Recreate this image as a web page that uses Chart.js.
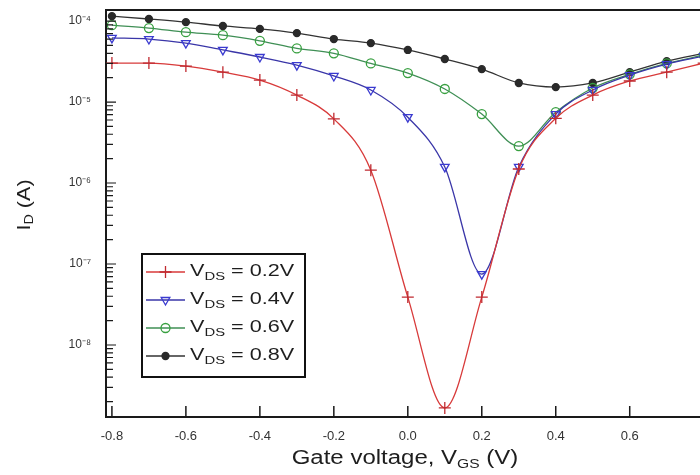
<!DOCTYPE html>
<html>
<head>
<meta charset="utf-8">
<script src="https://cdn.jsdelivr.net/npm/chart.js@4"></script>
<style>
  body { margin: 0; background: #fff; }
  #wrap { width: 700px; height: 475px; }
</style>
</head>
<body>
<div id="wrap"><canvas id="idChart" width="700" height="475"></canvas></div>
<script>
// Gate voltage sweep (V)
const vgs = [-0.8, -0.7, -0.6, -0.5, -0.4, -0.3, -0.2, -0.1, 0.0, 0.1, 0.2, 0.3, 0.4, 0.5, 0.6, 0.7, 0.8];

// drain current (A) for each V_DS
const id02 = [3.03e-5, 3.03e-5, 2.78e-5, 2.34e-5, 1.87e-5, 1.22e-5, 6.2e-6, 1.44e-6, 3.9e-8, 1.67e-9, 3.9e-8, 1.49e-6, 6.3e-6, 1.22e-5, 1.82e-5, 2.34e-5, 3.03e-5];
const id04 = [6.2e-5, 6.0e-5, 5.35e-5, 4.4e-5, 3.6e-5, 2.86e-5, 2.1e-5, 1.41e-5, 6.5e-6, 1.58e-6, 7.5e-8, 1.58e-6, 7.1e-6, 1.41e-5, 2.15e-5, 2.94e-5, 3.7e-5];
const id06 = [8.9e-5, 8.2e-5, 7.3e-5, 6.7e-5, 5.7e-5, 4.6e-5, 4.0e-5, 3.0e-5, 2.28e-5, 1.45e-5, 7.1e-6, 2.86e-6, 7.5e-6, 1.49e-5, 2.2e-5, 3.0e-5, 3.8e-5];
const id08 = [1.15e-4, 1.06e-4, 9.7e-5, 8.7e-5, 8.0e-5, 7.1e-5, 6.0e-5, 5.35e-5, 4.4e-5, 3.4e-5, 2.55e-5, 1.72e-5, 1.53e-5, 1.72e-5, 2.34e-5, 3.2e-5, 4.0e-5];

const seriesLabels = ["0.2V", "0.4V", "0.6V", "0.8V"];
const xTicks = [-0.8, -0.6, -0.4, -0.2, 0.0, 0.2, 0.4, 0.6];
const yDecades = [-9, -8, -7, -6, -5, -4];

const FONT = "'Liberation Sans', Arial, sans-serif";
const SUP = { "-": "\u207B", "4": "\u2074", "5": "\u2075", "6": "\u2076", "7": "\u2077", "8": "\u2078", "9": "\u2079" };

function toPoints(arr) {
    return vgs.map((v, i) => ({ x: v, y: arr[i] }));
}

const styles = [
    { line: "#d83a3a", mark: "#c02a30", style: "cross", radius: 6, rot: 0, fill: "#c02a30" },
    { line: "#3a36a8", mark: "#3a3ad0", style: "triangle", radius: 5, rot: 180, fill: "rgba(255,255,255,0)" },
    { line: "#3f8f55", mark: "#38a040", style: "circle", radius: 4.5, rot: 0, fill: "rgba(255,255,255,0)" },
    { line: "#333333", mark: "#2a2a2a", style: "circle", radius: 3.5, rot: 0, fill: "#2a2a2a" }
];
const allData = [id02, id04, id06, id08];

// draws text pieces with subscripts, starting at x (or centred), stretched by sx
function drawParts(ctx, parts, x, y, sx, centred) {
    let total = 0;
    parts.forEach(p => {
        ctx.font = p.size + "px " + FONT;
        p.w = ctx.measureText(p.t).width;
        total += p.w;
    });
    ctx.save();
    ctx.translate(x, y);
    ctx.scale(sx, 1);
    let cx = centred ? -total / 2 : 0;
    ctx.textBaseline = "middle";
    ctx.textAlign = "left";
    parts.forEach(p => {
        ctx.font = p.size + "px " + FONT;
        ctx.fillText(p.t, cx, p.dy || 0);
        cx += p.w;
    });
    ctx.restore();
}

function drawMarker(ctx, s, x, y) {
    ctx.save();
    ctx.strokeStyle = s.mark;
    ctx.fillStyle = s.fill;
    ctx.lineWidth = 1.3;
    ctx.beginPath();
    if (s.style === "cross") {
        ctx.moveTo(x - s.radius, y); ctx.lineTo(x + s.radius, y);
        ctx.moveTo(x, y - s.radius); ctx.lineTo(x, y + s.radius);
        ctx.stroke();
    } else if (s.style === "triangle") {
        const r = s.radius;
        ctx.moveTo(x, y + r);
        ctx.lineTo(x - r * 0.87, y - r * 0.5);
        ctx.lineTo(x + r * 0.87, y - r * 0.5);
        ctx.closePath();
        ctx.fill(); ctx.stroke();
    } else {
        ctx.arc(x, y, s.radius, 0, Math.PI * 2);
        ctx.fill(); ctx.stroke();
    }
    ctx.restore();
}

const decorPlugin = {
    id: "decor",
    afterDraw(chart) {
        const ctx = chart.ctx;
        const a = chart.chartArea;
        const xs = chart.scales.x, ys = chart.scales.y;
        ctx.save();

        // frame: top line
        ctx.strokeStyle = "#1a1a1a";
        ctx.lineWidth = 2;
        ctx.beginPath();
        ctx.moveTo(a.left, a.top); ctx.lineTo(a.right, a.top);
        ctx.stroke();

        // inward ticks on x axis
        ctx.lineWidth = 1.5;
        ctx.beginPath();
        xTicks.forEach(v => {
            const px = xs.getPixelForValue(v);
            ctx.moveTo(px, a.bottom); ctx.lineTo(px, a.bottom - 11);
        });
        ctx.stroke();

        // inward ticks on log y axis (decades and minors)
        ctx.lineWidth = 1.2;
        ctx.beginPath();
        yDecades.forEach(d => {
            for (let m = 1; m <= 9; m++) {
                const v = m * Math.pow(10, d);
                if (v < ys.min || v > ys.max) continue;
                const py = ys.getPixelForValue(v);
                const len = m === 1 ? 10 : 7;
                ctx.moveTo(a.left, py); ctx.lineTo(a.left + len, py);
            }
        });
        ctx.stroke();

        // axis titles
        ctx.fillStyle = "#1e1e1e";
        drawParts(ctx, [
            { t: "Gate voltage, V", size: 20 },
            { t: "GS", size: 13, dy: 6 },
            { t: " (V)", size: 20 }
        ], 405, 458, 1.2, true);

        ctx.save();
        ctx.translate(25, 205);
        ctx.rotate(-Math.PI / 2);
        drawParts(ctx, [
            { t: "I", size: 18 },
            { t: "D", size: 12, dy: 5 },
            { t: " (A)", size: 18 }
        ], 0, 0, 1.2, true);
        ctx.restore();

        // legend box
        const lx = 142, ly = 254, lw = 163, lh = 123;
        ctx.fillStyle = "#fff";
        ctx.fillRect(lx, ly, lw, lh);
        ctx.strokeStyle = "#111";
        ctx.lineWidth = 2;
        ctx.strokeRect(lx, ly, lw, lh);
        const rows = [272, 300, 328, 356];
        seriesLabels.forEach((lab, i) => {
            const s = styles[i];
            const y = rows[i];
            ctx.strokeStyle = s.line;
            ctx.lineWidth = 1.3;
            ctx.beginPath();
            ctx.moveTo(146, y); ctx.lineTo(185, y);
            ctx.stroke();
            drawMarker(ctx, s, 165.5, y);
            ctx.fillStyle = "#1e1e1e";
            drawParts(ctx, [
                { t: "V", size: 16 },
                { t: "DS", size: 11, dy: 5 },
                { t: " = " + lab, size: 16 }
            ], 190, y, 1.35, false);
        });

        ctx.restore();
    }
};

const ctx = document.getElementById("idChart").getContext("2d");

new Chart(ctx, {
    type: "line",
    data: {
        datasets: allData.map((arr, i) => ({
            label: "VDS = " + seriesLabels[i],
            data: toPoints(arr),
            borderColor: styles[i].line,
            borderWidth: 1.3,
            pointStyle: styles[i].style,
            pointRadius: styles[i].radius,
            pointRotation: styles[i].rot,
            pointBorderColor: styles[i].mark,
            pointBackgroundColor: styles[i].fill,
            pointBorderWidth: 1.3,
            cubicInterpolationMode: "monotone",
            fill: false
        }))
    },
    options: {
        responsive: false,
        animation: false,
        layout: { autoPadding: false, padding: { top: 10, right: 0, left: 0, bottom: 0 } },
        plugins: {
            legend: { display: false },
            tooltip: { enabled: false }
        },
        scales: {
            x: {
                type: "linear",
                min: -0.816,
                max: 0.79,
                afterBuildTicks: s => { s.ticks = xTicks.map(v => ({ value: v })); },
                afterFit: s => { s.height = 58; s.paddingLeft = 0; s.paddingRight = 0; },
                grid: { display: false, drawTicks: false },
                border: { display: true, color: "#1a1a1a", width: 2 },
                ticks: {
                    autoSkip: false,
                    maxRotation: 0,
                    padding: 12,
                    color: "#333",
                    font: { size: 13, family: FONT },
                    callback: v => v.toFixed(1)
                }
            },
            y: {
                type: "logarithmic",
                min: 1.29e-9,
                max: 1.37e-4,
                afterBuildTicks: s => { s.ticks = yDecades.filter(d => d >= -8).map(d => ({ value: Math.pow(10, d) })); },
                afterFit: s => { s.width = 106; s.paddingTop = 0; s.paddingBottom = 0; },
                grid: { display: false, drawTicks: false },
                border: { display: true, color: "#1a1a1a", width: 2 },
                ticks: {
                    autoSkip: false,
                    padding: 15,
                    color: "#333",
                    font: { size: 12, family: FONT },
                    callback: v => {
                        const e = Math.round(Math.log10(v));
                        return "10" + String(e).split("").map(c => SUP[c]).join("");
                    }
                }
            }
        }
    },
    plugins: [decorPlugin]
});
</script>
</body>
</html>
